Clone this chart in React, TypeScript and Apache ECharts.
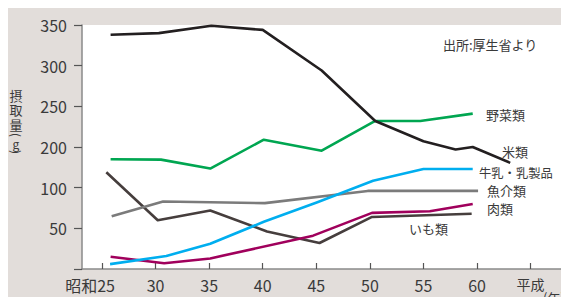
import React, { useEffect, useRef } from "react";
import * as echarts from "echarts";

// x positions are years of Shōwa era (昭和)
const xTicks = [25, 30, 35, 40, 45, 50, 55, 60, 65];
const yTickLabels = ["0", "50", "100", "200", "250", "300", "350"];

const riceYears = [25.8, 30.3, 35.2, 40.0, 45.5, 50.5, 55.0, 58.0, 59.6, 63.1];
const riceValues = [338, 340, 349, 344, 294, 232, 207, 194, 200, 161];

const vegYears = [25.8, 30.5, 35.1, 40.1, 45.5, 50.5, 54.7, 59.6];
const vegValues = [170, 169, 147, 209, 191, 232, 232, 241];

const milkYears = [25.75, 31.0, 35.1, 40.1, 45.1, 50.3, 55.0, 59.6];
const milkValues = [6, 16, 31, 58, 82, 117, 146, 146];

const fishYears = [25.9, 30.7, 35.1, 40.2, 49.8, 60.1];
const fishValues = [65, 83, 82, 81, 96, 96];

const meatYears = [25.8, 30.8, 35.1, 44.7, 50.2, 55.6, 59.6];
const meatValues = [15, 7, 13, 41, 69, 71, 80];

const potatoYears = [25.4, 30.2, 35.1, 40.4, 45.3, 50.2, 59.5];
const potatoValues = [138, 60, 72, 46, 32, 64, 68];

const seriesNames = ["米類", "野菜類", "牛乳・乳製品", "魚介類", "肉類", "いも類"];
const seriesColors = ["#231f20", "#00a651", "#00aeef", "#7b7b7b", "#a0005c", "#463e3d"];

// broken axis: 100–200 squeezed into one step
const toAxis = (v: number) => (v <= 100 ? v : v >= 200 ? v - 50 : 100 + (v - 100) / 2);
const fromAxis = (t: number) => (t <= 100 ? t : t + 50);

const FONT = "'Noto Sans CJK JP', 'Noto Sans', sans-serif";

export default function App() {
  const ref = useRef<HTMLDivElement>(null);
  useEffect(() => {
    if (!ref.current) return;
    const chart = echarts.init(ref.current, null, { renderer: "svg" });
    const allYears = [riceYears, vegYears, milkYears, fishYears, meatYears, potatoYears];
    const allValues = [riceValues, vegValues, milkValues, fishValues, meatValues, potatoValues];
    const txt = (text: string, x: number, y: number, size = 13, extra: any = {}, el: any = {}) => ({
      type: "text",
      x,
      y,
      ...el,
      style: {
        text,
        fill: "#3a3a3a",
        font: `${size}px ${FONT}`,
        lineHeight: size,
        verticalAlign: "middle",
        align: "left",
        ...extra,
      },
    });
    chart.setOption({
      animation: false,
      backgroundColor: "#e2ddda",
      textStyle: { fontFamily: FONT },
      grid: {
        left: 82,
        right: 5,
        top: 25,
        bottom: 36,
        show: true,
        backgroundColor: "#ffffff",
        borderWidth: 0,
      },
      xAxis: {
        type: "value",
        min: 23.13,
        max: 68.12,
        splitLine: { show: false },
        axisLine: { lineStyle: { color: "#8a8a8a", width: 1.5 } },
        axisTick: {
          inside: true,
          length: 6,
          customValues: xTicks,
          lineStyle: { color: "#555", width: 1.2 },
        },
        axisLabel: {
          customValues: xTicks,
          color: "#3a3a3a",
          fontSize: 16,
          margin: 8,
          formatter: (v: number) =>
            v === 25 ? "{s|昭和25}" : v === 65 ? "{h|平成}" : String(v),
          rich: {
            s: { fontSize: 16, color: "#3a3a3a", padding: [0, 24, 0, 0], fontFamily: FONT },
            h: { fontSize: 14, color: "#3a3a3a", fontFamily: FONT },
          },
        },
      },
      yAxis: {
        type: "value",
        min: 0,
        max: 300,
        interval: 50,
        splitLine: { show: false },
        axisLine: { show: true, lineStyle: { color: "#8a8a8a", width: 1.5 } },
        axisTick: { show: true, length: 8, lineStyle: { color: "#555", width: 1.2 } },
        axisLabel: {
          color: "#3a3a3a",
          fontSize: 16,
          margin: 15,
          formatter: (t: number) => (t === 0 ? "" : yTickLabels[Math.round(t / 50)] ?? String(fromAxis(t))),
        },
      },
      series: seriesNames.map((name, i) => ({
        name,
        type: "line",
        symbol: "none",
        data: allYears[i].map((y, j) => [y, toAxis(allValues[i][j])]),
        lineStyle: { color: seriesColors[i], width: 2.6, join: "round" },
        z: 10 - i,
      })),
      graphic: [
        txt("出所:厚生省より", 443, 44),
        txt("野菜類", 486, 114),
        txt("米類", 502, 151),
        txt("牛乳・乳製品", 479, 173, 12.3),
        txt("魚介類", 487, 190),
        txt("肉類", 487, 208),
        txt("いも類", 409, 228),
        txt("(年)", 543, 297),
        txt("摂\n取\n量", 16, 88, 13, { align: "center", verticalAlign: "top", lineHeight: 14.5 }),
        txt("(", 16, 135, 12, { align: "center" }, { rotation: -Math.PI / 2 }),
        txt("g", 16, 143, 12, { align: "center" }),
        txt(")", 16, 152, 12, { align: "center" }, { rotation: -Math.PI / 2 }),
      ],
    });
    return () => chart.dispose();
  }, []);
  return <div ref={ref} style={{ width: 569, height: 305, margin: -8 }} />;
}
